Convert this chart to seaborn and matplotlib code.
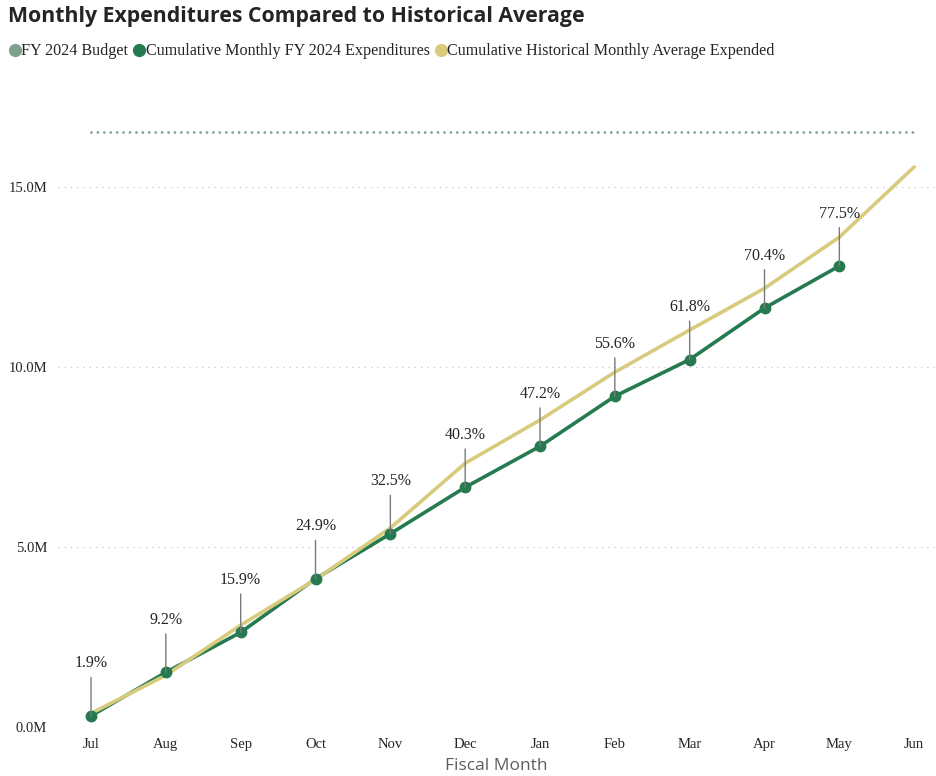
import matplotlib
matplotlib.use("Agg")
import matplotlib.pyplot as plt
import pandas as pd
import seaborn as sns
from matplotlib.lines import Line2D

months = ["Jul", "Aug", "Sep", "Oct", "Nov", "Dec", "Jan", "Feb", "Mar", "Apr", "May", "Jun"]
budget = 16.53  # FY 2024 budget, millions
expended = [0.31, 1.52, 2.63, 4.12, 5.37, 6.66, 7.80, 9.19, 10.21, 11.64, 12.81]  # Jul..May
pct_labels = ["1.9%", "9.2%", "15.9%", "24.9%", "32.5%", "40.3%", "47.2%", "55.6%", "61.8%", "70.4%", "77.5%"]
historical = [0.38, 1.44, 2.83, 4.10, 5.53, 7.33, 8.53, 9.86, 11.03, 12.19, 13.61, 15.56]

GREEN = "#267A50"
KHAKI = "#D8CB7E"
BUDGET_C = "#7FA08F"
TEXT = "#252423"

sns.set_theme(style="white")
plt.rcParams["font.family"] = ["Liberation Serif", "DejaVu Serif"]

df_hist = pd.DataFrame({"month": months, "value": historical})
df_exp = pd.DataFrame({"month": months[: len(expended)], "value": expended})
df_bud = pd.DataFrame({"month": months, "value": [budget] * len(months)})

fig = plt.figure(figsize=(9.37, 7.76), dpi=100)
ax = fig.add_axes([0.062, 0.0631, 0.936, 0.808])

# budget dotted line
sns.lineplot(data=df_bud, x="month", y="value", ax=ax, color=BUDGET_C, lw=2.0,
             linestyle=(0, (0.01, 2.3)), dash_capstyle="round", sort=False)
sns.lineplot(data=df_exp, x="month", y="value", ax=ax, color=GREEN, lw=2.6, sort=False, zorder=3)
sns.lineplot(data=df_hist, x="month", y="value", ax=ax, color=KHAKI, lw=2.6, sort=False, zorder=3)
ax.plot(range(len(expended)), expended, "o", color=GREEN, ms=7.5, zorder=5)

for i, (v, lab) in enumerate(zip(expended, pct_labels)):
    ax.annotate(lab, xy=(i, v), xytext=(0, 32), textcoords="offset points",
                ha="center", va="bottom", fontsize=11.5, color=TEXT,
                arrowprops=dict(arrowstyle="-", color="#7a7a7a", lw=1.0,
                                shrinkA=2, shrinkB=0, relpos=(0.5, 0)),
                zorder=6)

ax.set_xlim(-0.44, 11.28)
ax.set_ylim(0, 17.42)
ax.set_yticks([0, 5, 10, 15])
ax.set_yticklabels([f"{t:.1f}M" for t in [0, 5, 10, 15]])
ax.yaxis.grid(True, color="#c8c8c8", lw=0.9, linestyle=(0, (1, 4)))
ax.tick_params(axis="both", length=0, labelsize=10.5, colors=TEXT)
ax.tick_params(axis="x", pad=8)
ax.tick_params(axis="y", pad=8)
for s in ax.spines.values():
    s.set_visible(False)
ax.set_ylabel("")
ax.set_xlabel("Fiscal Month", family="Open Sans", fontsize=12.5, color="#605E5C", labelpad=5)

fig.text(0.009, 0.979, "Monthly Expenditures Compared to Historical Average",
         family="Open Sans", weight="bold", fontsize=15.3, color=TEXT, va="center")

handles = [
    Line2D([], [], marker="o", ls="", color=BUDGET_C, ms=8.5, label="FY 2024 Budget"),
    Line2D([], [], marker="o", ls="", color=GREEN, ms=8.5, label="Cumulative Monthly FY 2024 Expenditures"),
    Line2D([], [], marker="o", ls="", color=KHAKI, ms=8.5, label="Cumulative Historical Monthly Average Expended"),
]
fig.legend(handles=handles, loc="center left", bbox_to_anchor=(-0.005, 0.934), ncol=3,
           frameon=False, fontsize=11.6, handlelength=0.6, handletextpad=0.1,
           columnspacing=0.4, labelcolor=TEXT)

fig.savefig("out.png", dpi=100)
